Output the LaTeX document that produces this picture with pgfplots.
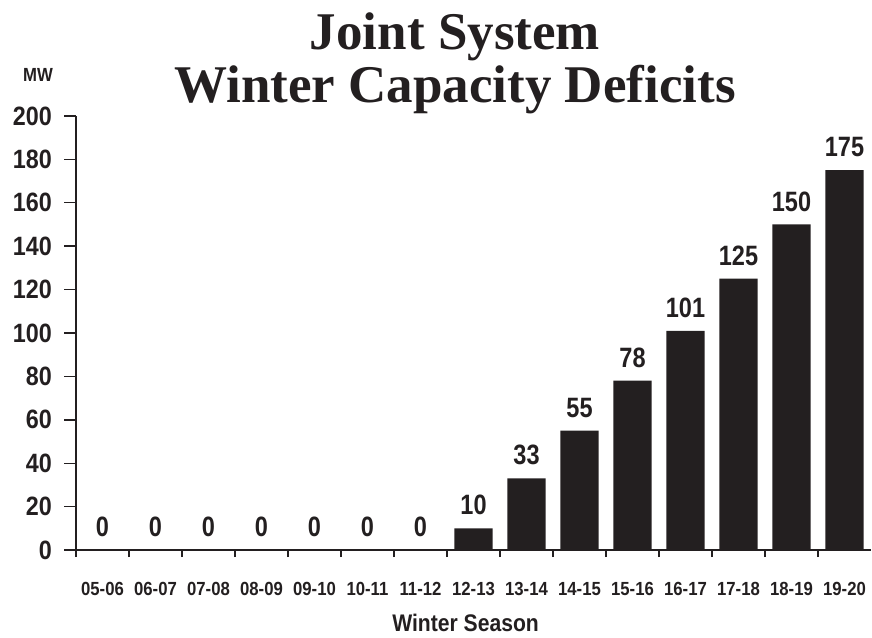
\documentclass[border=0pt]{standalone}
\usepackage{pgfplots}
\pgfplotsset{compat=1.18}
\usepackage{fontspec}
\setmainfont{Liberation Sans}
\newfontfamily\lab[FakeStretch=0.88]{Liberation Sans}
\newfontfamily\barlab[FakeStretch=0.84]{Liberation Sans}
\newfontfamily\ttl{Liberation Serif}
\definecolor{barc}{HTML}{231F20}
\begin{document}
\begin{tikzpicture}
\useasboundingbox (-76pt,-87pt) rectangle (796pt,550pt);
\begin{axis}[
  at={(0,0)}, anchor=south west,
  scale only axis, width=795pt, height=434pt,
  xmin=-0.5, xmax=14.5, ymin=0, ymax=200,
  axis x line*=bottom, axis y line*=left,
  axis line style={line width=1.6pt, color=barc},
  ytick={0,20,...,200},
  xtick={0,...,14},
  xticklabels={05-06,06-07,07-08,08-09,09-10,10-11,11-12,12-13,13-14,14-15,15-16,16-17,17-18,18-19,19-20},
  minor xtick={-0.5,0.5,...,13.5},
  tick align=outside,
  major x tick style={draw=none},
  minor x tick style={line width=1.6pt, color=barc},
  minor tick length=7pt,
  ytick style={line width=1.4pt, color=barc},
  major tick length=12pt,
  /pgf/number format/assume math mode=true,
  yticklabel style={font=\fontsize{26.5}{26.5}\selectfont\lab\bfseries, color=barc, anchor=east, inner sep=0pt, xshift=-12pt},
  xticklabel style={font=\fontsize{19}{19}\selectfont\lab\bfseries, color=barc, anchor=north, inner sep=0pt, text height=14pt, text depth=0pt, yshift=-19pt},
  ybar, bar width=0.72,
  nodes near coords,
  every node near coord/.append style={font=\fontsize{28}{28}\selectfont\barlab\bfseries, color=barc, anchor=south, inner sep=0pt, yshift=13pt},
  xlabel={Winter Season},
  xlabel style={font=\fontsize{24}{24}\selectfont\lab\bfseries, color=barc, at={(axis description cs:0.49,0)}, anchor=base, yshift=-81pt},
  clip=false,
]
\addplot[fill=barc, draw=none] coordinates {
(0,0) (1,0) (2,0) (3,0) (4,0) (5,0) (6,0) (7,10) (8,33) (9,55) (10,78) (11,101) (12,125) (13,150) (14,175)
};
\end{axis}
\node[anchor=base, font=\fontsize{53}{53}\selectfont\ttl\bfseries, color=barc] at (379pt,500pt) {Joint System};
\node[anchor=base, font=\fontsize{53}{53}\selectfont\ttl\bfseries, color=barc] at (379pt,447pt) {Winter Capacity Deficits};
\node[anchor=base, font=\fontsize{19}{19}\selectfont\lab\bfseries, color=barc] at (-38pt,468pt) {MW};
\end{tikzpicture}
\end{document}
